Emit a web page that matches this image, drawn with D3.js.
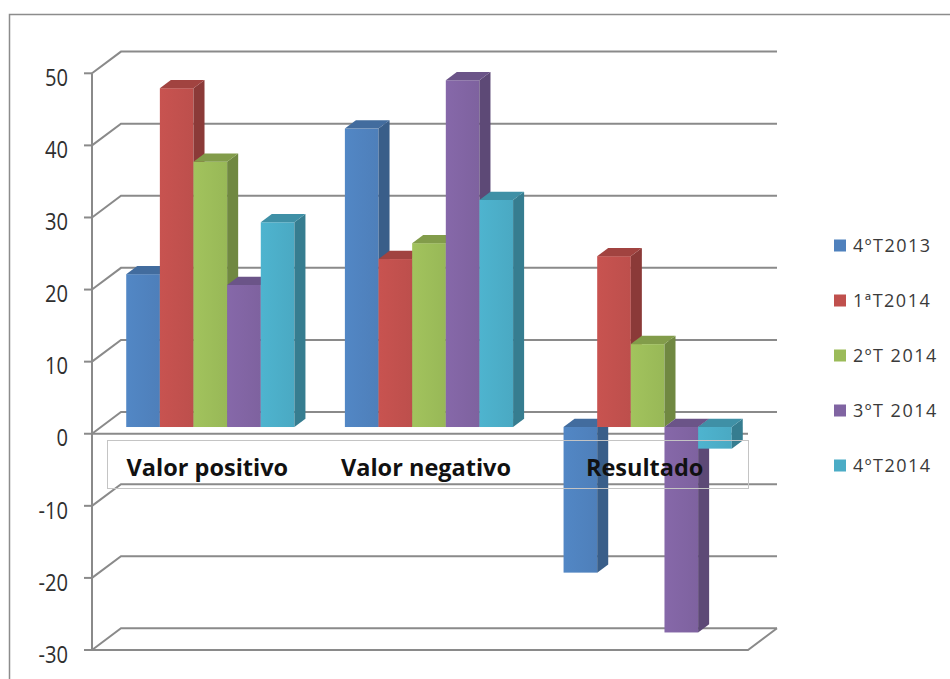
<!DOCTYPE html>
<html>
<head>
<meta charset="utf-8">
<script src="https://cdn.jsdelivr.net/npm/d3@7/dist/d3.min.js"></script>
<style>
  html, body { margin: 0; padding: 0; background: #fff; }
  svg { display: block; }
</style>
</head>
<body>
<svg id="chart" width="950" height="679"></svg>
<script>
// Quarterly comparison: positive value, negative value and result
const categories = ["Valor positivo", "Valor negativo", "Resultado"];
const seriesNames = ["4ºT2013", "1ªT2014", "2ºT 2014", "3ºT 2014", "4ºT2014"];
const seriesColors = ["#4F81BD", "#C0504D", "#9BBB59", "#8064A2", "#4BACC6"];
const values4T2013 = [21.2, 41.4, -20.2];
const values1T2014 = [47.0, 23.3, 23.7];
const values2T2014 = [36.8, 25.5, 11.5];
const values3T2014 = [19.7, 48.1, -28.5];
const values4T2014 = [28.4, 31.5, -3.0];
const seriesValues = [values4T2013, values1T2014, values2T2014, values3T2014, values4T2014];
const tickValues = [-30, -20, -10, 0, 10, 20, 30, 40, 50];

const svg = d3.select("#chart");

// plot geometry (front plane + oblique depth vector)
const plotLeft = 92, plotRight = 748, plotTop = 73.3, plotBottom = 650;
const depth = { x: 29, y: -21.7 };
const barFront = 0.31, barBack = 0.69;
const gridColor = "#8a8a8a";

const y = d3.scaleLinear().domain([-30, 50]).range([plotBottom, plotTop]);
const x = d3.scaleBand().domain(categories).range([plotLeft, plotRight]).paddingInner(0).paddingOuter(0);
const xs = d3.scaleBand().domain(seriesNames).range([0, x.bandwidth()]).paddingInner(0).paddingOuter(0.75);

// outer frame
svg.append("rect")
  .attr("x", 9.5).attr("y", 14.5).attr("width", 1000).attr("height", 700)
  .attr("fill", "none").attr("stroke", "#8c8c8c").attr("stroke-width", 1.5);

const grid = svg.append("g").attr("fill", "none").attr("stroke", gridColor).attr("stroke-width", 2);

// side wall diagonals + back wall gridlines
tickValues.forEach(t => {
  const yy = y(t);
  grid.append("path")
    .attr("d", `M${plotLeft},${yy} L${plotLeft + depth.x},${yy + depth.y} L${plotRight + depth.x},${yy + depth.y}`);
  // small tick mark
  grid.append("line").attr("x1", plotLeft - 8).attr("x2", plotLeft).attr("y1", yy).attr("y2", yy);
});

// floor front edge at the minimum
grid.append("path")
  .attr("d", `M${plotLeft},${y(-30)} L${plotRight},${y(-30)} L${plotRight + depth.x},${y(-30) + depth.y}`);
// category axis line at zero
grid.append("line").attr("x1", plotLeft).attr("x2", plotRight).attr("y1", y(0)).attr("y2", y(0));
// vertical value axis
grid.append("line").attr("x1", plotLeft).attr("x2", plotLeft).attr("y1", y(50)).attr("y2", y(-30));

// tick labels
const tickG = svg.append("g")
  .attr("font-family", "'Open Sans', sans-serif")
  .attr("font-size", 24)
  .attr("fill", "#2f2f2f");
tickValues.forEach(t => {
  tickG.append("text")
    .attr("transform", `translate(68,${y(t) + 3}) scale(0.84,1)`)
    .attr("text-anchor", "end")
    .attr("dominant-baseline", "central")
    .text(t);
});

// 3D bars
const fx = barFront * depth.x, fy = barFront * depth.y;
const dx = (barBack - barFront) * depth.x, dy = (barBack - barFront) * depth.y;
const barsG = svg.append("g");
const defs = svg.append("defs");

categories.forEach((cat, ci) => {
  seriesNames.forEach((s, si) => {
    const v = seriesValues[si][ci];
    const color = d3.color(seriesColors[si]);
    const x0 = x(cat) + xs(s) + fx;
    const w = xs.bandwidth();
    const yTop = Math.min(y(v), y(0)) + fy;
    const yBot = Math.max(y(v), y(0)) + fy;
    const g = barsG.append("g");
    const gradId = `grad-${ci}-${si}`;
    const grad = defs.append("linearGradient").attr("id", gradId)
      .attr("x1", "0%").attr("x2", "100%");
    grad.append("stop").attr("offset", "0%").attr("stop-color", color.brighter(0.12));
    grad.append("stop").attr("offset", "100%").attr("stop-color", color.darker(0.05));
    // front face
    g.append("rect").attr("x", x0).attr("y", yTop).attr("width", w).attr("height", yBot - yTop)
      .attr("fill", `url(#${gradId})`);
    // right side face
    g.append("path")
      .attr("d", `M${x0 + w},${yTop} L${x0 + w + dx},${yTop + dy} L${x0 + w + dx},${yBot + dy} L${x0 + w},${yBot} Z`)
      .attr("fill", color.darker(0.9));
    // top face
    g.append("path")
      .attr("d", `M${x0},${yTop} L${x0 + dx},${yTop + dy} L${x0 + w + dx},${yTop + dy} L${x0 + w},${yTop} Z`)
      .attr("fill", color.darker(0.5));
  });
});

// category label box and labels
svg.append("rect")
  .attr("x", 107.5).attr("y", 440.5).attr("width", 641).attr("height", 48)
  .attr("fill", "none").attr("stroke", "#c4c4c4").attr("stroke-width", 1);
svg.append("g")
  .attr("font-family", "'Open Sans', sans-serif")
  .attr("font-weight", "bold")
  .attr("font-size", 23.5)
  .attr("fill", "#111")
  .selectAll("text").data(categories).join("text")
  .attr("x", d => x(d) + x.bandwidth() / 2 + 6)
  .attr("y", 476)
  .attr("text-anchor", "middle")
  .text(d => d);

// legend
const legend = svg.append("g")
  .attr("font-family", "'Open Sans', sans-serif")
  .attr("font-size", 18)
  .attr("fill", "#3a3a3a");
seriesNames.forEach((s, i) => {
  const by = 252 + i * 55;
  legend.append("rect").attr("x", 834).attr("y", by - 12.5).attr("width", 12).attr("height", 12)
    .attr("fill", seriesColors[i]);
  legend.append("text").attr("x", 853).attr("y", by).attr("letter-spacing", 1.5).text(s);
});
</script>
</body>
</html>
